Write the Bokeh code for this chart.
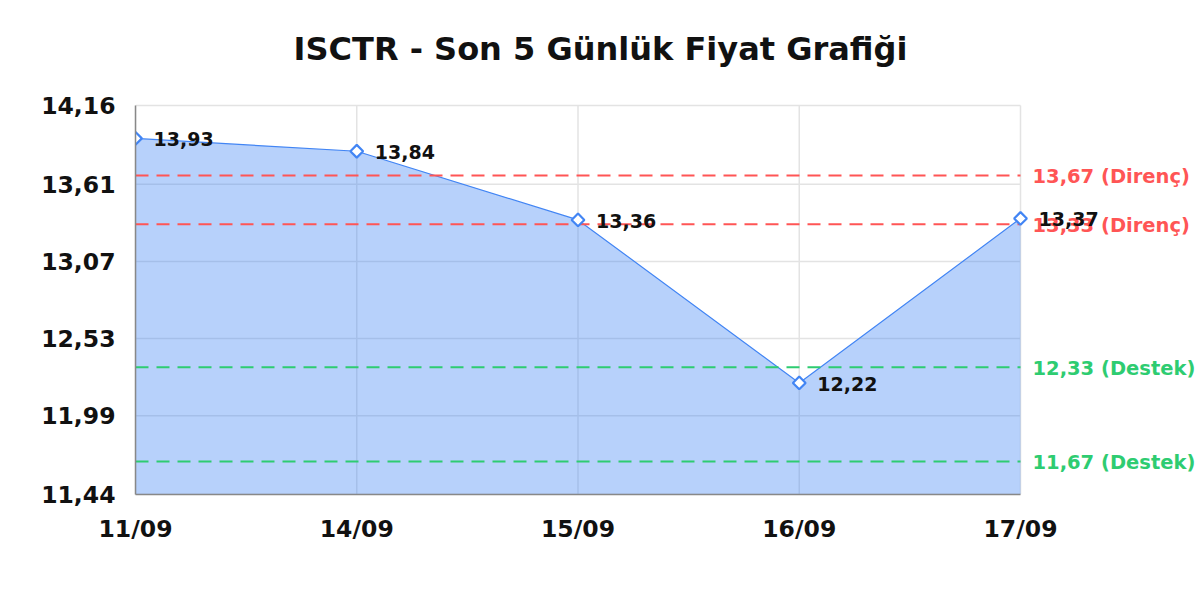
import math
from bokeh.plotting import figure
from bokeh.models import Range1d, FixedTicker, CustomJSTickFormatter, ColumnDataSource
from bokeh.embed import file_html
from bokeh.resources import INLINE
from bokeh.core.properties import value

title_text = "ISCTR - Son 5 Günlük Fiyat Grafiği"
dates = ["11/09", "14/09", "15/09", "16/09", "17/09"]
closes = [13.93, 13.84, 13.36, 12.22, 13.37]
y_ticks = [11.44, 11.99, 12.53, 13.07, 13.61, 14.16]
y_min, y_max = 11.44, 14.16
resistance = [13.67, 13.33]
support = [12.33, 11.67]

FONT = "DejaVu Sans"
BLUE = "#4285f4"
RED = "#ff5555"
GREEN = "#2ecc71"
GRID = "#e3e3e3"

# layout (pixels)
W, H = 1200, 592
LEFT, BOTTOM = 135, 98
DATA_TOP = 105                    # pixel y of the top of the data area
DATA_W, DATA_H = 885, 389         # pixel size of the data area
TITLE_CX, TITLE_BASE = 600, 48    # title centre x and baseline y (pixels)
n = len(dates)
FRAME_W = W - LEFT
x_end = (n - 1) * FRAME_W / DATA_W
y_per_px = (y_max - y_min) / DATA_H
y_end = y_max + DATA_TOP * y_per_px

xs = list(range(n))
labels = [f"{v:.2f}".replace(".", ",") for v in closes]
src = ColumnDataSource(dict(x=xs, y=closes, lbl=labels, base=[y_min] * n))

p = figure(width=W, height=H, output_backend="svg", toolbar_location=None,
           x_range=Range1d(0, x_end), y_range=Range1d(y_min, y_end),
           min_border_left=LEFT, min_border_right=0, min_border_top=0, min_border_bottom=BOTTOM)
p.outline_line_color = None

# axes
p.xaxis.ticker = FixedTicker(ticks=xs)
p.xaxis.major_label_overrides = {i: d for i, d in enumerate(dates)}
p.xaxis.bounds = (0, n - 1)
p.yaxis.ticker = FixedTicker(ticks=y_ticks)
p.yaxis.bounds = (y_min, y_max)
p.yaxis.formatter = CustomJSTickFormatter(code="return tick.toFixed(2).replace('.', ',');")
for ax in (p.xaxis[0], p.yaxis[0]):
    ax.major_label_text_font = FONT
    ax.major_label_text_font_size = "23.5px"
    ax.major_label_text_font_style = "bold"
    ax.major_label_text_color = "#111111"
    ax.major_tick_line_color = None
    ax.minor_tick_line_color = None
    ax.axis_line_color = "#888888"
    ax.axis_line_width = 1.5
p.xaxis.major_label_standoff = 14
p.yaxis.major_label_standoff = 14

# grid lines limited to the data area
p.grid.grid_line_color = None
p.segment(x0=[0] * len(y_ticks), x1=[n - 1] * len(y_ticks), y0=y_ticks, y1=y_ticks,
          line_color=GRID, line_width=1.5)
p.segment(x0=xs, x1=xs, y0=[y_min] * n, y1=[y_max] * n, line_color=GRID, line_width=1.5)

# title
p.text(x=[(TITLE_CX - LEFT) * (n - 1) / DATA_W], y=[y_max + (DATA_TOP - TITLE_BASE) * y_per_px],
       text=[title_text], text_font=value(FONT), text_font_size="32px", text_font_style="bold",
       text_color="#111111", text_align="center", text_baseline="alphabetic")

# area + line
p.varea(x="x", y1="base", y2="y", source=src, fill_color=BLUE, fill_alpha=0.38)
p.line(x="x", y="y", source=src, line_color=BLUE, line_width=1.2)

# support / resistance lines
levels = resistance + support
cols = [RED] * len(resistance) + [GREEN] * len(support)
words = ["Direnç"] * len(resistance) + ["Destek"] * len(support)
lsrc = ColumnDataSource(dict(
    y=levels, c=cols, x0=[0] * len(levels), x1=[n - 1] * len(levels),
    t=[f"{lv:.2f} ({w})".replace(".", ",") for lv, w in zip(levels, words)]))
p.segment(x0="x0", x1="x1", y0="y", y1="y", source=lsrc, line_color="c",
          line_width=2, line_dash="13 8")
p.text(x="x1", y="y", text="t", source=lsrc, x_offset=12, y_offset=1,
       text_font=value(FONT), text_font_size="19.5px", text_font_style="bold",
       text_color="c", text_baseline="middle", text_align="left")

# markers + value labels
p.scatter(x="x", y="y", source=src, marker="square", angle=math.pi / 4, size=9,
          fill_color="white", line_color=BLUE, line_width=2.2)
p.text(x="x", y="y", text="lbl", source=src, x_offset=18, y_offset=1,
       text_font=value(FONT), text_font_size="19px", text_font_style="bold",
       text_color="#111111", text_baseline="middle", text_align="left")

open("out.html", "w").write(file_html(p, INLINE))
